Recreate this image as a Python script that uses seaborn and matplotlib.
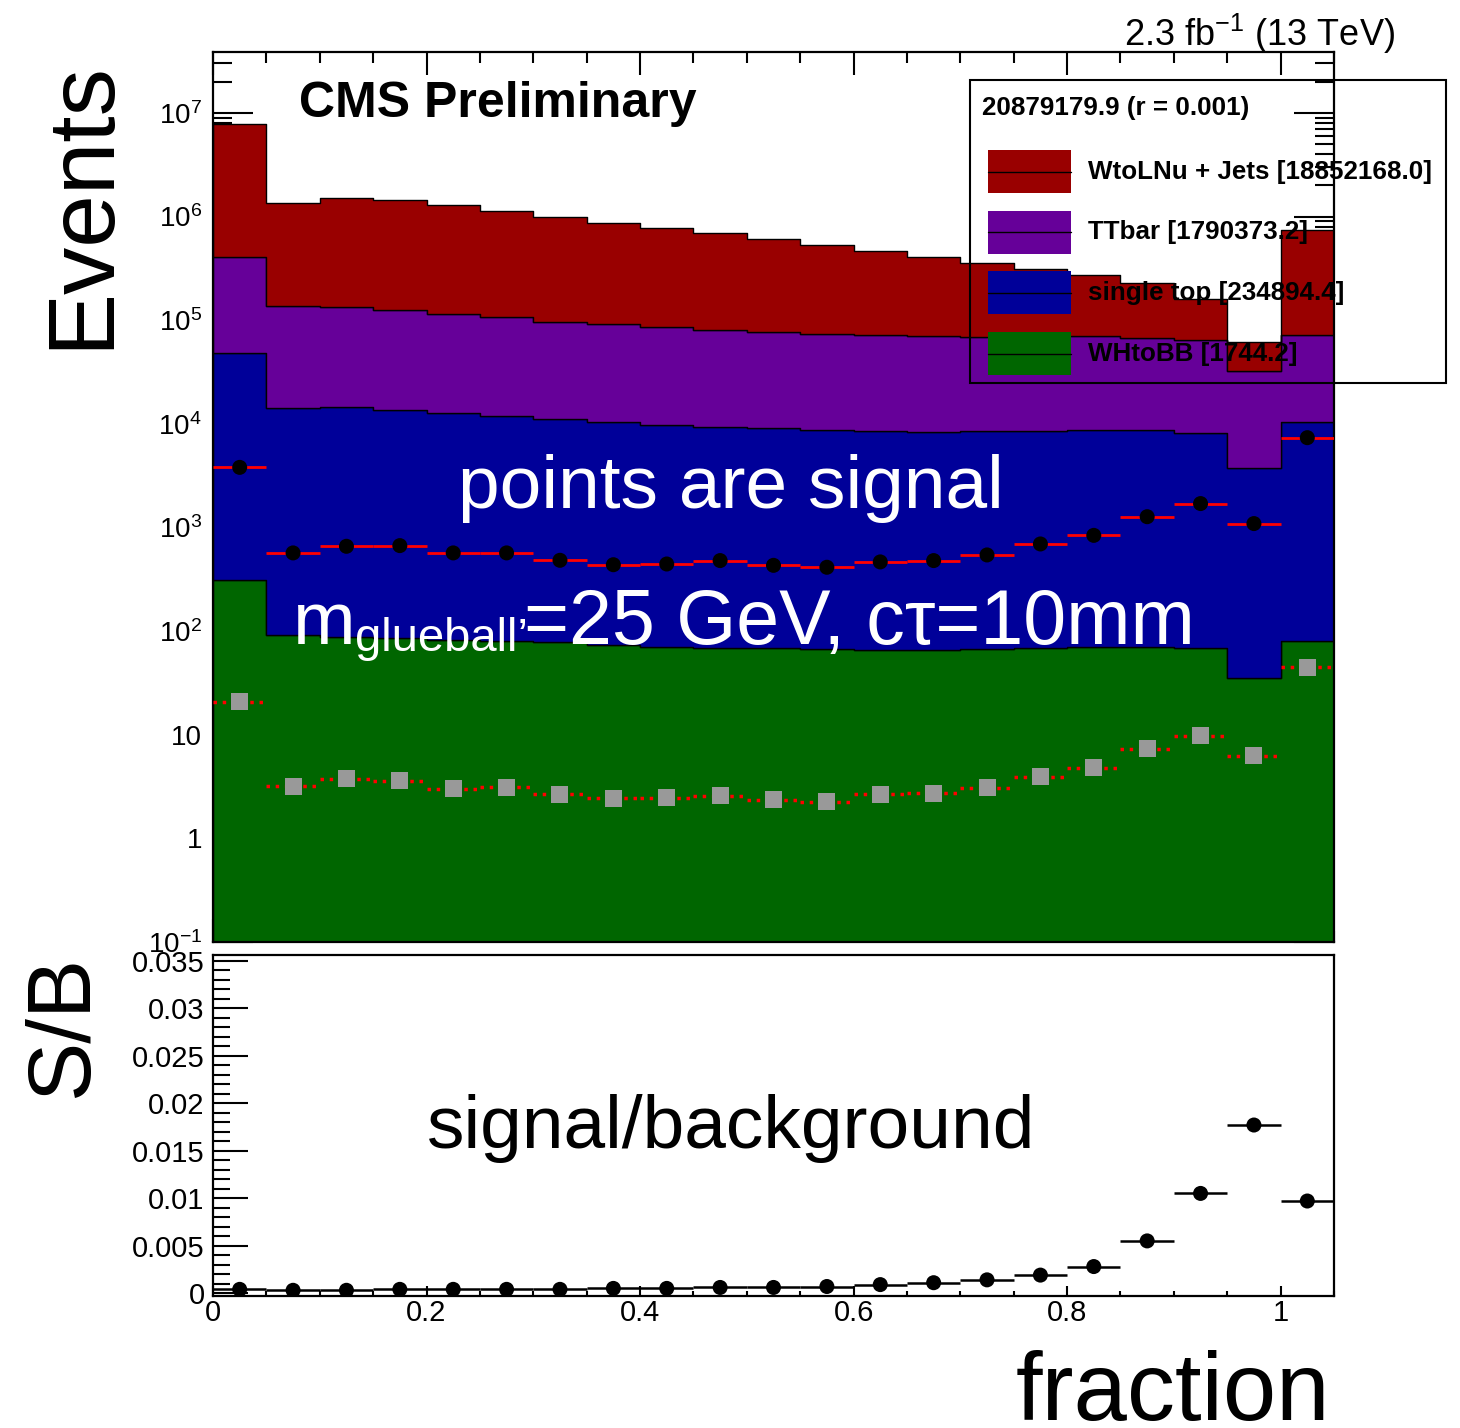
import numpy as np
import pandas as pd
import matplotlib
matplotlib.use("Agg")
import matplotlib.pyplot as plt
import matplotlib.ticker as mticker
from matplotlib.lines import Line2D
import seaborn as sns

# 21 bins of width 0.05 from 0 to 1.05
bin_edges = np.linspace(0, 1.05, 22)
bin_centers = (bin_edges[:-1] + bin_edges[1:]) / 2

# background contents per bin
wjets = [7.39e6, 1.214e6, 1.386e6, 1.306e6, 1.165e6, 1.023e6, 9.03e5, 7.83e5, 6.84e5, 6.09e5, 5.28e5,
         4.56e5, 3.88e5, 3.40e5, 2.86e5, 2.43e5, 2.00e5, 1.62e5, 9.6e4, 3.0e4, 6.68e5]
ttbar = [3.62e5, 1.218e5, 1.195e5, 1.103e5, 1.022e5, 9.5e4, 8.59e4, 8.16e4, 7.63e4, 7.16e4, 6.79e4,
         6.52e4, 6.35e4, 6.16e4, 6.05e4, 6.14e4, 6.13e4, 5.93e4, 5.58e4, 2.83e4, 6.16e4]
single_top = [47700, 14110, 14410, 13615, 12718, 11920, 11022, 10326, 9629, 9331, 9031,
              8733, 8434, 8334, 8433, 8531, 8630, 8630, 8131, 3715, 10319]
whbb = [312, 91, 88, 85, 82, 80, 78, 74, 71, 69, 69, 67, 66, 66, 67, 69, 70, 70, 69, 35, 81]

# signal (black points) and signal scaled (grey squares)
signal = [3800, 568, 658, 668, 568, 568, 482, 437, 444, 479, 431,
          413, 465, 479, 543, 693, 839, 1270, 1700, 1090, 7350]
signal_small = [20.7, 3.19, 3.76, 3.61, 3.0, 3.12, 2.65, 2.43, 2.46, 2.59, 2.37,
                2.25, 2.65, 2.71, 3.08, 3.93, 4.8, 7.3, 9.76, 6.27, 45]

# signal / background ratio
s_over_b = [0.0004, 0.0003, 0.0003, 0.0004, 0.0004, 0.0004, 0.0004, 0.0005, 0.0005, 0.0006, 0.0006,
            0.0007, 0.0009, 0.0011, 0.0014, 0.0019, 0.0028, 0.0055, 0.0105, 0.0177, 0.0097]

processes = ["WtoLNu + Jets", "TTbar", "single top", "WHtoBB"]
process_totals = ["18852168.0", "1790373.2", "234894.4", "1744.2"]
colors = ["#990000", "#660099", "#000099", "#006600"]
legend_header = "20879179.9 (r = 0.001)"

sns.set_style("ticks")
plt.rcParams['font.family'] = ['Liberation Sans', 'DejaVu Sans']
plt.rcParams['mathtext.fontset'] = 'custom'
plt.rcParams['mathtext.rm'] = 'Liberation Sans'
plt.rcParams['mathtext.it'] = 'Liberation Sans:italic'
plt.rcParams['mathtext.bf'] = 'Liberation Sans:bold'
plt.rcParams['axes.linewidth'] = 1.6
for key in ['text.color', 'axes.labelcolor', 'axes.edgecolor', 'xtick.color', 'ytick.color']:
    plt.rcParams[key] = 'black'

W, H = 1460, 1428


def fx(x):
    return x / W


def fy(y):
    return 1 - y / H


fig = plt.figure(figsize=(W / 100, H / 100), dpi=100)
ax = fig.add_axes([fx(213), fy(942), (1334 - 213) / W, (942 - 52) / H])
ax2 = fig.add_axes([fx(213), fy(1296), (1334 - 213) / W, (1296 - 955) / H])

# ---- top panel: stacked backgrounds
df = pd.DataFrame({
    "fraction": np.tile(bin_centers, 4),
    "events": np.concatenate([wjets, ttbar, single_top, whbb]),
    "process": np.repeat(processes, len(bin_centers)),
})
ax.set_yscale("log")
sns.histplot(data=df, x="fraction", weights="events", hue="process", hue_order=processes,
             palette=dict(zip(processes, colors)), binwidth=0.05, binrange=(0, 1.05), multiple="stack",
             element="step", alpha=1, edgecolor="black", linewidth=1, legend=False, ax=ax)

eb = ax.errorbar(bin_centers, signal_small, xerr=0.025, fmt="none", ecolor="red", elinewidth=2.5, zorder=4)
eb[2][0].set_linestyle(":")
sns.scatterplot(x=bin_centers, y=signal_small, marker="s", s=150, color="#999999", edgecolor="none",
                ax=ax, zorder=5)
ax.errorbar(bin_centers, signal, xerr=0.025, fmt="none", ecolor="red", elinewidth=2, zorder=4)
sns.scatterplot(x=bin_centers, y=signal, marker="o", s=117, color="black", edgecolor="none",
                ax=ax, zorder=5)

ax.set_xlim(0, 1.05)
ax.set_ylim(0.1, 3.87e7)
ax.set_xlabel("")
ax.set_ylabel("")
ax.yaxis.set_major_locator(mticker.FixedLocator([1e-1, 1, 10, 1e2, 1e3, 1e4, 1e5, 1e6, 1e7]))
ax.yaxis.set_major_formatter(mticker.FixedFormatter(
    [r"$\mathregular{10^{-1}}$", "1", "10", r"$\mathregular{10^{2}}$", r"$\mathregular{10^{3}}$",
     r"$\mathregular{10^{4}}$", r"$\mathregular{10^{5}}$", r"$\mathregular{10^{6}}$",
     r"$\mathregular{10^{7}}$"]))
ax.yaxis.set_minor_locator(mticker.LogLocator(base=10, subs=np.arange(2, 10), numticks=30))
ax.yaxis.set_minor_formatter(mticker.NullFormatter())
ax.xaxis.set_major_locator(mticker.MultipleLocator(0.2))
ax.xaxis.set_minor_locator(mticker.MultipleLocator(0.05))
ax.tick_params(axis="y", which="major", direction="in", length=29, width=1.5, left=True, right=True,
               labelsize=20, pad=8)
ax.tick_params(axis="y", which="minor", direction="in", length=14, width=1.5, left=True, right=True)
ax.tick_params(axis="x", which="major", direction="in", length=16.5, width=1.5, top=True, bottom=True,
               labelbottom=False)
ax.tick_params(axis="x", which="minor", direction="in", length=8, width=1.5, top=True, bottom=True)

fig.text(fx(299), fy(104), "CMS Preliminary", fontsize=36, fontweight="bold", va="center", ha="left")
fig.text(fx(1395), fy(46), r"2.3 fb$^{\mathregular{-1}}$ (13 TeV)", fontsize=26, ha="right", va="baseline")
fig.text(fx(731), fy(508), "points are signal", fontsize=54, color="white", ha="center", va="baseline")
fig.text(fx(293), fy(644), "m", fontsize=54, color="white", ha="left", va="baseline")
fig.text(fx(355), fy(651), "glueball’", fontsize=34, color="white", ha="left", va="baseline")
fig.text(fx(524), fy(644), "=25 GeV, cτ=10mm", fontsize=55.5, color="white", ha="left", va="baseline")
fig.text(fx(83), fy(205), "Events", fontsize=68, rotation=90, ha="center", va="center")

# ---- legend (ROOT style, transparent box)
fig.add_artist(plt.Rectangle((fx(970), fy(383)), (1446 - 970) / W, (383 - 80) / H, transform=fig.transFigure,
                             fill=False, edgecolor="black", linewidth=1.5, zorder=6))
fig.text(fx(982), fy(108), legend_header, fontsize=18.7, fontweight="bold", va="center", ha="left", zorder=7)
for i, (name, tot, c) in enumerate(zip(processes, process_totals, colors)):
    yc = 171.5 + 60.7 * i
    fig.add_artist(plt.Rectangle((fx(988), fy(yc + 21.5)), (1071 - 988) / W, 43 / H, transform=fig.transFigure,
                                 facecolor=c, edgecolor="none", zorder=6))
    fig.add_artist(Line2D([fx(988), fx(1071)], [fy(yc), fy(yc)], color="black", linewidth=1,
                          transform=fig.transFigure, zorder=7))
    fig.text(fx(1088), fy(yc), f"{name} [{tot}]", fontsize=18.7, fontweight="bold", va="center", ha="left",
             zorder=7)

# ---- bottom panel: signal / background
ax2.errorbar(bin_centers, s_over_b, xerr=0.025, fmt="none", ecolor="black", elinewidth=1.8, zorder=4)
sns.scatterplot(x=bin_centers, y=s_over_b, marker="o", s=117, color="black", edgecolor="none", ax=ax2, zorder=5)
ax2.set_xlim(0, 1.05)
ax2.set_ylim(-0.0003, 0.0356)
ax2.set_xlabel("")
ax2.set_ylabel("")
ax2.yaxis.set_major_locator(mticker.MultipleLocator(0.005))
ax2.yaxis.set_minor_locator(mticker.MultipleLocator(0.001))
ax2.xaxis.set_major_locator(mticker.MultipleLocator(0.2))
ax2.xaxis.set_minor_locator(mticker.MultipleLocator(0.05))
ax2.yaxis.set_major_formatter(mticker.FuncFormatter(lambda v, p: "%g" % round(v, 4)))
ax2.xaxis.set_major_formatter(mticker.FuncFormatter(lambda v, p: "%g" % round(v, 2)))
ax2.tick_params(axis="y", which="major", direction="in", length=25, width=1.5, labelsize=21, pad=6)
ax2.tick_params(axis="y", which="minor", direction="in", length=12, width=1.5)
ax2.tick_params(axis="x", which="major", direction="in", length=7, width=1.5, labelsize=21, pad=2)
ax2.tick_params(axis="x", which="minor", direction="in", length=3.5, width=1.5)

fig.text(fx(731), fy(1148), "signal/background", fontsize=54, ha="center", va="baseline")
fig.text(fx(64), fy(1025), "S/B", fontsize=64, rotation=90, ha="center", va="center")
fig.text(fx(1330), fy(1420), "fraction", fontsize=69, ha="right", va="baseline")

fig.savefig("out.png", dpi=100)
